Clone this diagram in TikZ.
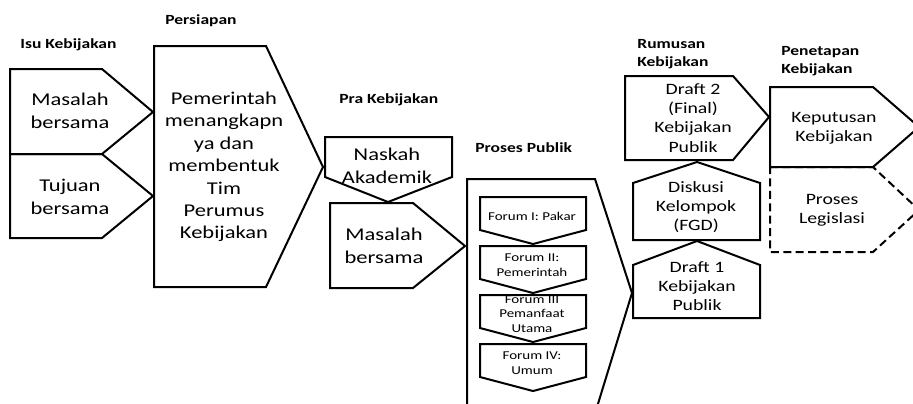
\documentclass[tikz,border=0pt]{standalone}
\usepackage{fontspec}
\setmainfont{Carlito}[FakeStretch=1.25]
\usepackage{tikz}

\begin{document}
\begin{tikzpicture}[x=0.5pt, y=-0.5pt,
    box/.style={draw, line width=1pt, line join=miter},
    dashbox/.style={draw, line width=1pt, dash pattern=on 4pt off 2.2pt},
    bigtxt/.style={align=center, inner sep=0pt, font=\fontsize{9}{11.2}\selectfont},
    midtxt/.style={align=center, inner sep=0pt, font=\fontsize{7.9}{9.6}\selectfont},
    forumtxt/.style={align=center, inner sep=0pt, font=\fontsize{6}{7.3}\selectfont},
    lbl/.style={align=left, inner sep=0pt, anchor=west, font=\bfseries\fontsize{7}{8.8}\selectfont}]
    \useasboundingbox (0,0) rectangle (913,403);
    \clip (0,0) rectangle (913,403);

    % Stage labels
    \node[lbl] (isulbl) at (20,45) {Isu Kebijakan};
    \node[lbl] (persiapanlbl) at (165,21) {Persiapan};
    \node[lbl] (pralbl) at (339,100) {Pra Kebijakan};
    \node[lbl] (publiklbl) at (475,148) {Proses Publik};
    \node[lbl] (rumusanlbl) at (637,54) {Rumusan\\Kebijakan};
    \node[lbl] (penetapanlbl) at (781,61) {Penetapan\\Kebijakan};

    % Isu Kebijakan
    \draw[box] (10,69) -- (102,69) -- (153,112) -- (102,154) -- (10,154) -- cycle;
    \draw[box] (10,154) -- (102,154) -- (153,196) -- (102,238) -- (10,238) -- cycle;
    \node[bigtxt] (masalah) at (70,111) {Masalah\\bersama};
    \node[bigtxt] (tujuan) at (70,197) {Tujuan\\bersama};

    % Persiapan
    \draw[box] (154,46) -- (266,46) -- (323,167) -- (266,287) -- (154,287) -- cycle;
    \node[bigtxt] (pemerintah) at (224,167) {Pemerintah\\menangkapn\\ya dan\\membentuk\\Tim\\Perumus\\Kebijakan};

    % Pra Kebijakan
    \draw[box] (325,137) -- (452,137) -- (452,177) -- (388,202) -- (325,177) -- cycle;
    \draw[box] (330,203) -- (413,203) -- (465,246) -- (413,288) -- (330,288) -- cycle;
    \node[bigtxt] (naskah) at (387,166) {Naskah\\Akademik};
    \node[bigtxt] (masalahpra) at (384,246) {Masalah\\bersama};

    % Proses Publik with the four forums
    \draw[box] (467,179) -- (595,179) -- (632,293) -- (597,407) -- (467,407) -- cycle;
    \foreach \n/\t/\txt in {1/197/{Forum I: Pakar}, 2/246/{Forum II:\\Pemerintah},
                           3/295/{Forum III\\Pemanfaat\\Utama}, 4/344/{Forum IV:\\Umum}} {
        \draw[box] (480,\t) -- (586,\t) -- (586,\t+33) -- (533,\t+47) -- (480,\t+33) -- cycle;
        \node[forumtxt] (forum\n) at (532,\t+19) {\txt};
    }

    % Rumusan Kebijakan
    \draw[box] (633,265) -- (697,241) -- (760,265) -- (760,318) -- (633,318) -- cycle;
    \draw[box] (633,183) -- (697,162) -- (760,183) -- (760,240) -- (633,240) -- cycle;
    \draw[box] (625,76) -- (733,76) -- (769,117) -- (733,160) -- (625,160) -- cycle;
    \node[midtxt] (draftsatu) at (697,286) {Draft 1\\Kebijakan\\Publik};
    \node[midtxt] (diskusi) at (696,207) {Diskusi\\Kelompok\\(FGD)};
    \node[midtxt] (draftdua) at (693,118) {Draft 2\\(Final)\\Kebijakan\\Publik};

    % Penetapan Kebijakan
    \draw[dashbox] (770,167) -- (873,167) -- (919,210) -- (873,252) -- (770,252) -- cycle;
    \draw[box] (770,87) -- (873,87) -- (919,127) -- (873,167) -- (770,167) -- cycle;
    \node[midtxt] (keputusan) at (834,128) {Keputusan\\Kebijakan};
    \node[midtxt] (legislasi) at (832,210) {Proses\\Legislasi};
\end{tikzpicture}
\end{document}
